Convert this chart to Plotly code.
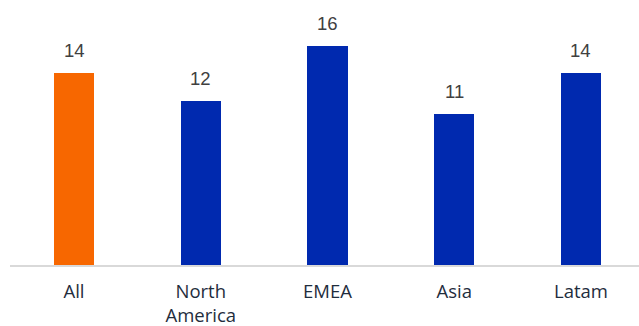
import plotly.graph_objects as go

categories = ["All", "North<br>America", "EMEA", "Asia", "Latam"]
values = [14, 12, 16, 11, 14]
value_labels = ["14", "12", "16", "11", "14"]
bar_colors = ["#F76700", "#0029AF", "#0029AF", "#0029AF", "#0029AF"]

x_idx = list(range(len(categories)))

fig = go.Figure(
    go.Bar(
        x=x_idx,
        y=values,
        width=0.316,
        marker=dict(color=bar_colors, line=dict(width=0)),
        hoverinfo="skip",
    )
)

# value labels above each bar
for xi, v, lab in zip(x_idx, values, value_labels):
    fig.add_annotation(
        x=xi, y=v, text=lab, showarrow=False,
        yanchor="bottom", yshift=10,
        font=dict(family="Liberation Sans, Arial, sans-serif", size=18.5, color="#404040"),
    )

fig.update_layout(
    width=639, height=326,
    margin=dict(l=10, r=0, t=0, b=61),
    plot_bgcolor="white", paper_bgcolor="white",
    showlegend=False,
    bargap=0,
)
fig.update_xaxes(
    range=[-0.505, 4.458],
    automargin=False,
    tickmode="array", tickvals=x_idx, ticktext=categories,
    showline=True, linecolor="#D9D9D9", linewidth=2,
    showgrid=False, zeroline=False, ticks="",
    ticklabelstandoff=9,
    tickfont=dict(family="Open Sans, sans-serif", size=18.5, color="#1F2D3D"),
)
fig.update_yaxes(range=[0, 19.36], visible=False, showgrid=False, zeroline=False)

fig.write_html("out.html")
